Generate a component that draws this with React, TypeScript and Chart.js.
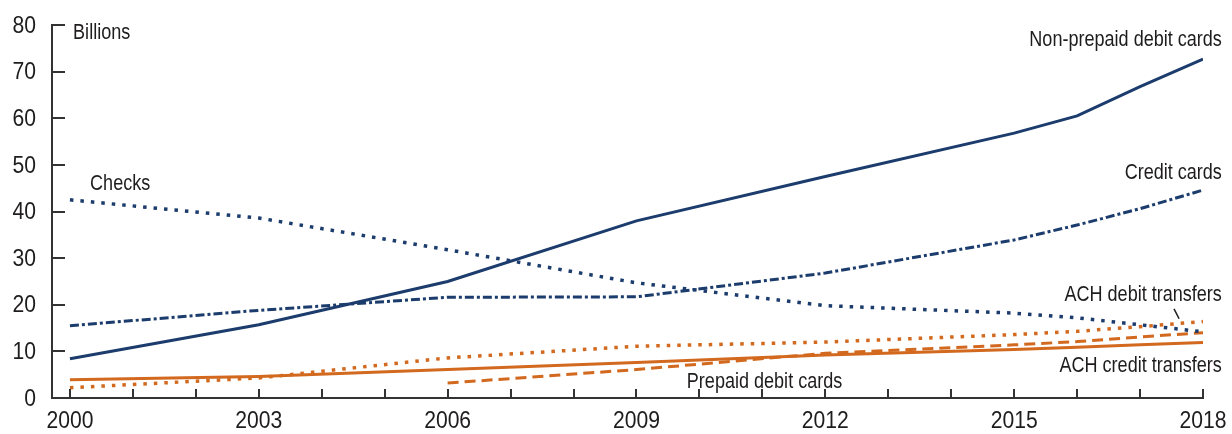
import React, { useEffect, useRef } from "react";
import { Chart, registerables } from "chart.js";

Chart.register(...registerables);

const years = [2000, 2003, 2006, 2009, 2012, 2015, 2016, 2017, 2018];
const nonPrepaidDebit = [8.4, 15.7, 25.0, 38.0, 47.5, 56.8, 60.5, 66.8, 72.7];
const creditCards = [15.5, 18.8, 21.6, 21.7, 26.8, 33.9, 37.1, 40.6, 44.6];
const checks = [42.5, 38.6, 31.8, 24.7, 19.8, 18.2, 17.2, 15.7, 14.2];
const achDebit = [2.2, 4.3, 8.6, 11.1, 12.0, 13.6, 14.3, 15.3, 16.4];
const achCredit = [3.9, 4.6, 6.1, 7.6, 9.2, 10.4, 10.9, 11.4, 11.9];
const prepaidDebit: (number | null)[] = [null, null, 3.2, 6.1, 9.6, 11.4, 12.1, 13.1, 14.0];

const axisYears = [2000, 2001, 2002, 2003, 2004, 2005, 2006, 2007, 2008, 2009, 2010, 2011, 2012, 2013, 2014, 2015, 2016, 2017, 2018];
const xTickLabels = [2000, 2003, 2006, 2009, 2012, 2015, 2018];
const yTicks = [0, 10, 20, 30, 40, 50, 60, 70, 80];

// annotation labels anchored in data coordinates
const labels = [
  { text: "Billions", x: 2000.05, y: 78.3, align: "left" },
  { text: "Checks", x: 2000.32, y: 45.9, align: "left" },
  { text: "Non-prepaid debit cards", x: 2018.3, y: 76.8, align: "right" },
  { text: "Credit cards", x: 2018.3, y: 48.3, align: "right" },
  { text: "ACH debit transfers", x: 2018.3, y: 22.1, align: "right" },
  { text: "ACH credit transfers", x: 2018.3, y: 6.9, align: "right" },
  { text: "Prepaid debit cards", x: 2009.8, y: 3.5, align: "left" },
];
const leader = { x1: 2017.54, y1: 19.1, x2: 2017.62, y2: 17.0 };

const NAVY = "#1b3c6c";
const ORANGE = "#d2691e";
const TEXT = "#1e1c1c";
const FONT = "'Liberation Sans', Arial, sans-serif";

const toPoints = (vals: (number | null)[]) =>
  years.map((x, i) => ({ x, y: vals[i] })).filter((p) => p.y !== null) as { x: number; y: number }[];

function condensedText(ctx: any, text: string, x: number, y: number, align: string, squeeze: number) {
  ctx.save();
  ctx.translate(x, y);
  ctx.scale(squeeze, 1);
  ctx.textAlign = align;
  ctx.fillText(text, 0, 0);
  ctx.restore();
}

const decorPlugin = {
  id: "decor",
  afterDraw(chart: any) {
    const { ctx, scales } = chart;
    const xs = scales.x;
    const ys = scales.y;
    const bottom = ys.getPixelForValue(0);
    const left = xs.left;
    ctx.save();
    ctx.strokeStyle = "#333";
    ctx.lineWidth = 2;
    // inward x ticks
    axisYears.forEach((v) => {
      const px = Math.round(xs.getPixelForValue(v));
      ctx.beginPath();
      ctx.moveTo(px, bottom);
      ctx.lineTo(px, bottom - 9);
      ctx.stroke();
    });
    // inward y ticks
    yTicks.forEach((v) => {
      if (v === 0) return;
      const py = Math.round(ys.getPixelForValue(v));
      ctx.beginPath();
      ctx.moveTo(left, py);
      ctx.lineTo(left + 13, py);
      ctx.stroke();
    });
    // tick labels
    ctx.fillStyle = TEXT;
    ctx.font = `24px ${FONT}`;
    ctx.textBaseline = "middle";
    xTickLabels.forEach((v) => {
      condensedText(ctx, String(v), xs.getPixelForValue(v), bottom + 23, "center", 0.88);
    });
    yTicks.forEach((v) => {
      condensedText(ctx, String(v), left - 16, ys.getPixelForValue(v) + 1, "right", 0.88);
    });
    // annotation labels
    ctx.font = `22px ${FONT}`;
    labels.forEach((l) => {
      condensedText(ctx, l.text, xs.getPixelForValue(l.x), ys.getPixelForValue(l.y), l.align, 0.82);
    });
    ctx.lineWidth = 1.5;
    ctx.strokeStyle = TEXT;
    ctx.beginPath();
    ctx.moveTo(xs.getPixelForValue(leader.x1), ys.getPixelForValue(leader.y1));
    ctx.lineTo(xs.getPixelForValue(leader.x2), ys.getPixelForValue(leader.y2));
    ctx.stroke();
    ctx.restore();
  },
};

export default function App() {
  const ref = useRef<HTMLCanvasElement | null>(null);
  useEffect(() => {
    if (!ref.current) return;
    const common = { pointRadius: 0, tension: 0, fill: false, borderWidth: 3 };
    const chart = new Chart(ref.current, {
      type: "line",
      data: {
        datasets: [
          { ...common, label: "Checks", data: toPoints(checks), borderColor: NAVY, borderDash: [3.5, 7], borderWidth: 3.5 },
          { ...common, label: "Credit cards", data: toPoints(creditCards), borderColor: NAVY, borderDash: [9, 3, 3, 3] },
          { ...common, label: "ACH debit transfers", data: toPoints(achDebit), borderColor: ORANGE, borderDash: [3.5, 7], borderWidth: 3.5 },
          { ...common, label: "Prepaid debit cards", data: toPoints(prepaidDebit), borderColor: ORANGE, borderDash: [11, 6] },
          { ...common, label: "ACH credit transfers", data: toPoints(achCredit), borderColor: ORANGE },
          { ...common, label: "Non-prepaid debit cards", data: toPoints(nonPrepaidDebit), borderColor: NAVY },
        ],
      },
      options: {
        animation: false,
        responsive: true,
        maintainAspectRatio: false,
        layout: { padding: { top: 25, right: 29, left: 0, bottom: 0 } },
        plugins: { legend: { display: false }, tooltip: { enabled: false } },
        scales: {
          x: {
            type: "linear",
            min: 1999.715,
            max: 2018,
            afterBuildTicks: (axis: any) => {
              axis.ticks = axisYears.map((v) => ({ value: v }));
            },
            afterFit: (axis: any) => {
              axis.height = 36;
            },
            grid: { display: false, drawTicks: false },
            border: { display: true, color: "#333", width: 2 },
            ticks: { display: false },
          },
          y: {
            min: 0,
            max: 80,
            afterBuildTicks: (axis: any) => {
              axis.ticks = yTicks.map((v) => ({ value: v }));
            },
            afterFit: (axis: any) => {
              axis.width = 52;
            },
            grid: { display: false, drawTicks: false },
            border: { display: true, color: "#333", width: 2 },
            ticks: { display: false },
          },
        },
      },
      plugins: [decorPlugin],
    } as any);
    return () => chart.destroy();
  }, []);
  return (
    <div style={{ position: "absolute", left: 0, top: 0, width: 1232, height: 434, background: "#fff" }}>
      <canvas ref={ref} />
    </div>
  );
}
